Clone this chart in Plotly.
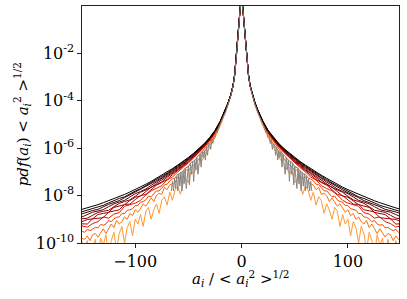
import plotly.graph_objects as go

# half-axis grids (|a_i| / rms), mirrored to the negative side
x_half = [0, 1, 2, 3, 4, 5, 6.5, 8, 10, 12.5, 15, 20, 25, 30, 35, 40, 45, 50, 55, 60, 65, 70,
          75, 80, 85, 90, 95, 100, 105, 110, 115, 120, 125, 130, 135, 140, 145, 150]
x_fine = [0, 1, 2, 3, 4, 5, 6.5, 8, 10, 12.5, 15, 20, 25, 30, 35,
          40, 42.5, 45, 47.5, 50, 52.5, 55, 57.5, 60, 62.5, 65, 67.5, 70, 72.5, 75, 77.5,
          80, 82.5, 85, 87.5, 90, 92.5, 95, 97.5, 100, 102.5, 105, 107.5, 110, 112.5, 115,
          117.5, 120, 122.5, 125, 127.5, 130, 132.5, 135, 137.5, 140, 142.5, 145, 147.5, 150]

# log10 of pdf for each curve (black -> light orange)
center = [0.6, 0.0, -0.55, -1.1, -1.65, -2.2]
c0 = center + [-2.9, -3.35, -3.72, -4.06, -4.36, -4.85, -5.25, -5.55, -5.8, -6.02, -6.21, -6.39, -6.56, -6.71, -6.86, -7.0, -7.14, -7.27, -7.4, -7.52, -7.64, -7.75, -7.85, -7.95, -8.04, -8.13, -8.22, -8.3, -8.38, -8.45, -8.52, -8.58]
c1 = center + [-2.9, -3.35, -3.72, -4.07, -4.37, -4.86, -5.26, -5.57, -5.82, -6.04, -6.24, -6.42, -6.6, -6.75, -6.9, -7.05, -7.19, -7.32, -7.46, -7.58, -7.71, -7.81, -7.92, -8.05, -8.12, -8.2, -8.31, -8.41, -8.47, -8.54, -8.62, -8.68]
c2 = center + [-2.9, -3.35, -3.73, -4.07, -4.37, -4.87, -5.28, -5.58, -5.84, -6.06, -6.26, -6.45, -6.63, -6.78, -6.94, -7.09, -7.24, -7.37, -7.51, -7.64, -7.76, -7.88, -7.97, -8.09, -8.21, -8.29, -8.37, -8.47, -8.58, -8.63, -8.69, -8.77]
c3 = center + [-2.9, -3.36, -3.73, -4.08, -4.38, -4.88, -5.29, -5.6, -5.86, -6.09, -6.29, -6.48, -6.66, -6.82, -6.98, -7.13, -7.29, -7.43, -7.57, -7.72, -7.83, -7.92, -8.06, -8.2, -8.27, -8.35, -8.47, -8.59, -8.65, -8.7, -8.8, -8.9]
c4 = center + [-2.9, -3.36, -3.73, -4.08, -4.38, -4.89, -5.3, -5.62, -5.88, -6.11, -6.32, -6.51, -6.7, -6.87, -7.03, -7.18, -7.34, -7.49, -7.66, -7.76, -7.86, -8.03, -8.18, -8.25, -8.33, -8.47, -8.62, -8.66, -8.71, -8.83, -8.95, -8.98]
c5 = center + [-2.91, -3.36, -3.74, -4.09, -4.39, -4.9, -5.32, -5.64, -5.9, -6.14, -6.35, -6.55, -6.74, -6.91, -7.07, -7.23, -7.42, -7.54, -7.64, -7.83, -8.02, -8.07, -8.21, -8.38, -8.44, -8.5, -8.71, -8.75, -8.8, -8.98, -9.01, -9.1]
c6 = center + [-2.91, -3.36, -3.74, -4.09, -4.4, -4.91, -5.33, -5.65, -5.92, -6.16, -6.38, -6.58, -6.77, -6.95, -7.12, -7.32, -7.45, -7.56, -7.75, -7.95, -8.0, -8.17, -8.36, -8.37, -8.6, -8.64, -8.7, -8.93, -8.95, -8.98, -9.2, -9.19]
c7 = center + [-2.91, -3.37, -3.74, -4.1, -4.4, -4.92, -5.35, -5.67, -5.95, -6.19, -6.41, -6.62, -6.82, -7.0, -7.22, -7.34, -7.58, -7.7, -7.8, -7.97, -8.2, -8.32, -8.4, -8.45, -8.72, -8.78, -8.95, -8.9, -9.1, -9.18, -9.33, -9.28]
# noisier curves on the finer grid
c8 = center + [-2.91, -3.37, -3.75, -4.1, -4.41, -4.94, -5.38, -5.73, -6.03,
               -6.3, -6.42, -6.55, -6.6, -6.78, -6.82, -6.95, -7.08, -7.1, -7.26,
               -7.3, -7.38, -7.52, -7.55, -7.66, -7.8, -7.8, -7.92, -8.05, -8.02,
               -8.18, -8.25, -8.28, -8.42, -8.42, -8.55, -8.6, -8.62, -8.76, -8.76,
               -8.9, -8.92, -8.98, -9.1, -9.05, -9.2, -9.25, -9.22, -9.36, -9.34,
               -9.42, -9.48, -9.42, -9.55, -9.5]
c9 = center + [-2.91, -3.37, -3.76, -4.12, -4.43, -4.98, -5.45, -5.83, -6.16,
               -6.45, -6.6, -6.7, -6.8, -6.95, -6.9, -7.15, -7.3, -7.2, -7.45,
               -7.5, -7.55, -7.75, -7.65, -7.95, -7.9, -8.0, -8.25, -8.1, -8.3,
               -8.45, -8.35, -8.55, -8.7, -8.6, -8.85, -8.75, -9.0, -8.9, -9.1,
               -9.2, -9.05, -9.35, -9.2, -9.4, -9.6, -9.4, -9.55, -9.75, -9.6,
               -9.65, -9.9, -9.7, -9.85, -9.8]
c10 = center + [-2.92, -3.39, -3.79, -4.16, -4.48, -5.06, -5.55, -5.98, -6.38,
                -6.7, -6.9, -7.05, -7.0, -7.45, -7.3, -7.5, -7.95, -7.6, -7.75,
                -8.2, -7.85, -8.4, -8.05, -8.2, -8.75, -8.35, -8.6, -9.0, -8.5,
                -8.65, -9.3, -8.8, -9.2, -9.0, -9.7, -9.1, -9.35, -10.0, -9.3,
                -9.6, -10.3, -9.55, -9.9, -10.5, -9.65, -10.1, -9.8, -10.6, -9.85,
                -10.3, -10.7, -9.9, -10.4, -9.95]

# gray (noisy, shorter) curve
x_gray = [0, 1, 2, 3, 4, 5, 6.5, 8, 10, 12.5, 15, 18, 19, 20, 21, 22, 23, 24, 25, 26, 27,
          28, 29, 30, 31, 32, 33, 34, 35, 36, 37, 38, 39, 40, 41, 42, 43, 44, 45, 46, 47,
          48, 49, 50, 51, 52, 53, 54, 55, 56, 57, 58, 59, 60, 61, 62, 63, 64, 65, 66]
gray = [0.6, 0.0, -0.55, -1.1, -1.65, -2.2, -2.92, -3.38, -3.77, -4.14, -4.46, -4.75,
        -4.87, -4.97, -5.08, -5.2, -5.35, -5.3, -5.55, -5.5, -5.8, -5.62, -6.05, -5.8, -5.85,
        -6.3, -5.95, -6.5, -6.1, -6.4, -6.15, -6.8, -6.25, -6.6, -7.1, -6.4, -6.9, -6.5,
        -7.4, -6.55, -7.1, -6.65, -7.55, -6.75, -7.3, -7.7, -6.85, -7.5, -6.95, -7.8, -7.0,
        -7.6, -7.1, -7.8, -7.2, -7.7, -7.3, -7.8, -7.4, -7.8]

curves = [(x_fine, c10), (x_fine, c9), (x_fine, c8), (x_half, c7), (x_half, c6),
          (x_half, c5), (x_half, c4), (x_half, c3), (x_half, c2), (x_half, c1), (x_half, c0)]
colors = ["#ff9933", "#ff7000", "#f54700", "#d61f00", "#b80000", "#990000",
          "#7a0000", "#5c0000", "#3d0000", "#1f0000", "#000000"]

y_tickvals = [1e-10, 1e-8, 1e-6, 1e-4, 1e-2]
y_ticktext = ["10<sup>-10</sup>", "10<sup>-8</sup>", "10<sup>-6</sup>", "10<sup>-4</sup>", "10<sup>-2</sup>"]
x_tickvals = [-100, 0, 100]
x_ticktext = ["\u2212100", "0", "100"]


def mirror(xs, ys):
    fx = [-v for v in xs[:0:-1]] + list(xs)
    fy = list(ys[:0:-1]) + list(ys)
    return fx, [10 ** v for v in fy]


fig = go.Figure()
for (xs, ys), col in zip(curves, colors):
    fx, fy = mirror(xs, ys)
    fig.add_trace(go.Scatter(x=fx, y=fy, mode="lines", line=dict(color=col, width=1),
                             showlegend=False, hoverinfo="skip"))
fx, fy = mirror(x_gray, gray)
fig.add_trace(go.Scatter(x=fx, y=fy, mode="lines", line=dict(color="#858585", width=1),
                         showlegend=False, hoverinfo="skip"))

tickfont = dict(family="DejaVu Serif", size=16, color="black")
axis_common = dict(showline=True, mirror=True, linecolor="#222", linewidth=1.2,
                   ticks="outside", ticklen=3.5, tickwidth=1, tickcolor="#222",
                   showgrid=False, zeroline=False, tickfont=tickfont, automargin=False)

fig.update_layout(
    width=407, height=299,
    margin=dict(l=82, r=8, t=6, b=56),
    paper_bgcolor="white", plot_bgcolor="white",
    xaxis=dict(range=[-150, 148], tickvals=x_tickvals, ticktext=x_ticktext, **axis_common),
    yaxis=dict(type="log", range=[-10, 0], tickvals=y_tickvals, ticktext=y_ticktext,
               **axis_common),
    annotations=[
        dict(text="<i>a<sub>i</sub></i> / < <i>a</i><sub><i>i</i></sub><sup>2</sup> ><sup>1/2</sup>",
             xref="paper", yref="paper", x=0.5, y=-0.15, xanchor="center", yanchor="middle",
             showarrow=False, font=dict(family="DejaVu Serif", size=15, color="black")),
        dict(text="<i>pdf</i>(<i>a<sub>i</sub></i>) < <i>a</i><sub><i>i</i></sub><sup>2</sup> ><sup>1/2</sup>",
             xref="paper", yref="paper", x=-0.19, y=0.5, xanchor="center", yanchor="middle",
             textangle=-90, showarrow=False,
             font=dict(family="DejaVu Serif", size=15, color="black")),
    ],
)

fig.write_html("out.html", config={"displayModeBar": False},
               post_script="document.body.style.margin='0px';")
